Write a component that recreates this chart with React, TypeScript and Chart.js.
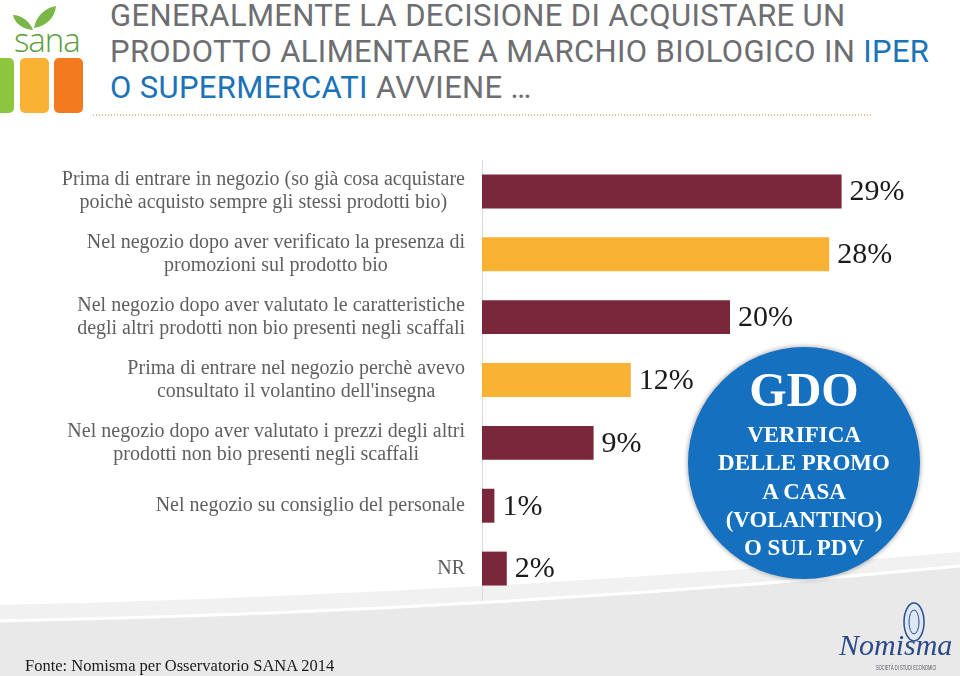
import React, { useEffect, useRef } from "react";
import { Chart, registerables } from "chart.js";

Chart.register(...registerables);

const categories: string[][] = [
  ["Prima di entrare in negozio (so già cosa acquistare", "poichè acquisto sempre gli stessi prodotti bio)"],
  ["Nel negozio dopo aver verificato la presenza di", "promozioni sul prodotto bio"],
  ["Nel negozio dopo aver valutato le caratteristiche", "degli altri prodotti non bio presenti negli scaffali"],
  ["Prima di entrare nel negozio perchè avevo", "consultato il volantino dell'insegna"],
  ["Nel negozio dopo aver valutato i prezzi degli altri", "prodotti non bio presenti negli scaffali"],
  ["Nel negozio su consiglio del personale"],
  ["NR"],
];
const values = [29, 28, 20, 12, 9, 1, 2];
const MAROON = "#7a273b";
const GOLD = "#f9b233";
const barColors = [MAROON, GOLD, MAROON, GOLD, MAROON, MAROON, MAROON];

const titleLines = [
  [{ t: "GENERALMENTE LA DECISIONE DI ACQUISTARE UN", blue: false }],
  [
    { t: "PRODOTTO ALIMENTARE A MARCHIO BIOLOGICO IN ", blue: false },
    { t: "IPER", blue: true },
  ],
  [
    { t: "O SUPERMERCATI", blue: true },
    { t: " AVVIENE …", blue: false },
  ],
];
const badgeTitle = "GDO";
const badgeLines = ["VERIFICA", "DELLE PROMO", "A CASA", "(VOLANTINO)", "O SUL PDV"];
const sourceText = "Fonte: Nomisma per Osservatorio SANA 2014";

const SERIF = '"Liberation Serif", "Times New Roman", serif';

const labelPlugin = {
  id: "customLabels",
  afterDraw(chart: any) {
    const ctx = chart.ctx;
    const yScale = chart.scales.y;
    const area = chart.chartArea;
    ctx.save();
    // category labels
    ctx.font = `20px ${SERIF}`;
    ctx.fillStyle = "#5f5f5f";
    ctx.textBaseline = "middle";
    ctx.textAlign = "center";
    const lh = 23;
    categories.forEach((lines, i) => {
      const y = yScale.getPixelForValue(i);
      const widest = Math.max(...lines.map((l) => ctx.measureText(l).width));
      const cx = area.left - 17 - widest / 2;
      lines.forEach((l, j) => {
        ctx.fillText(l, cx, y - ((lines.length - 1) * lh) / 2 + j * lh);
      });
    });
    // value labels
    const meta = chart.getDatasetMeta(0);
    ctx.font = `30px ${SERIF}`;
    ctx.fillStyle = "#1a1a1a";
    ctx.textAlign = "left";
    meta.data.forEach((el: any, i: number) => {
      ctx.fillText(values[i] + "%", el.x + 8, el.y + 1);
    });
    ctx.restore();
  },
};

function BarChart() {
  const ref = useRef<HTMLCanvasElement | null>(null);
  useEffect(() => {
    if (!ref.current) return;
    const chart = new Chart(ref.current, {
      type: "bar",
      data: {
        labels: categories.map((c) => c.join(" ")),
        datasets: [
          {
            data: values,
            backgroundColor: barColors,
            borderWidth: 0,
            barPercentage: 1,
            categoryPercentage: 34 / 63,
          },
        ],
      },
      options: {
        indexAxis: "y",
        responsive: false,
        animation: false,
        devicePixelRatio: 1,
        layout: { padding: { left: 0, right: 44, top: 160, bottom: 76 } },
        scales: {
          x: { display: false, min: 0, max: 35 },
          y: {
            grid: { display: false, drawTicks: false },
            border: { display: true, color: "#dcdcdc", width: 1 },
            ticks: { display: false },
            afterFit: (s: any) => {
              s.width = 482;
            },
          },
        },
        plugins: { legend: { display: false }, tooltip: { enabled: false } },
      },
      plugins: [labelPlugin],
    } as any);
    return () => chart.destroy();
  }, []);
  return (
    <canvas
      ref={ref}
      width={960}
      height={676}
      style={{ position: "absolute", left: 0, top: 0, width: 960, height: 676, display: "block" }}
    />
  );
}

export default function App() {
  useEffect(() => {
    document.body.style.margin = "0";
  }, []);
  return (
    <div
      style={{
        position: "absolute",
        left: 0,
        top: 0,
        width: 960,
        height: 676,
        overflow: "hidden",
        background: "#ffffff",
      }}
    >
      {/* background swoosh */}
      <svg width={960} height={676} style={{ position: "absolute", left: 0, top: 0 }}>
        <path d="M0,605 Q480,594 960,552 L960,676 L0,676 Z" fill="#f1f1f1" />
        <path d="M0,622 Q480,613 960,567 L960,676 L0,676 Z" fill="#e9e9e9" />
        <path d="M0,621 Q480,612 960,566" stroke="#ffffff" strokeWidth={3} fill="none" />
        {/* dotted line under title */}
        <line x1={93} y1={115} x2={873} y2={115} stroke="#f0a868" strokeWidth={1.4} strokeDasharray="1 2" />
        {/* SANA logo */}
        <path d="M33,30 C30,22 22,15 13,15 C15,24 23,29 33,30 Z" fill="#7ab648" />
        <path d="M34,28 C36,16 45,8 56,6 C55,18 46,26 34,28 Z" fill="#7ab648" />
        <rect x={-12} y={58} width={26} height={55} rx={5} fill="#8cc63f" />
        <rect x={20} y={58} width={29} height={55} rx={5} fill="#f9b233" />
        <rect x={54} y={58} width={29} height={55} rx={5} fill="#f47a20" />
        {/* Nomisma emblem */}
        <ellipse cx={914} cy={622} rx={10} ry={19} fill="#dfe7f3" stroke="#2b4f93" strokeWidth={1.5} />
        <ellipse cx={914} cy={622} rx={5} ry={12} fill="none" stroke="#2b4f93" strokeWidth={1} />
      </svg>
      <div
        style={{
          position: "absolute",
          left: 14,
          top: 23,
          fontFamily: '"Open Sans", sans-serif',
          fontWeight: 300,
          fontSize: 33,
          lineHeight: "34px",
          color: "#5a9e3a",
          letterSpacing: -1,
        }}
      >
        sana
      </div>
      {/* title */}
      {titleLines.map((line, i) => (
        <div
          key={i}
          style={{
            position: "absolute",
            left: 110,
            top: -2 + i * 36,
            fontFamily: "Roboto, sans-serif",
            fontSize: 31,
            lineHeight: "36px",
            letterSpacing: 0.35,
            whiteSpace: "nowrap",
            color: "#6d6e71",
          }}
        >
          {line.map((p, j) => (
            <span key={j} style={{ color: p.blue ? "#1a72b9" : "#6d6e71" }}>
              {p.t}
            </span>
          ))}
        </div>
      ))}
      <BarChart />
      {/* badge */}
      <div
        style={{
          position: "absolute",
          left: 688,
          top: 347,
          width: 232,
          height: 232,
          borderRadius: "50%",
          background: "#1570c0",
          boxShadow: "0 0 4px 1px rgba(0,0,0,0.3)",
          fontFamily: SERIF,
          fontWeight: 700,
          color: "#ffffff",
        }}
      >
        <div
          style={{
            position: "absolute",
            left: 0,
            width: 232,
            top: 43 - 28,
            height: 56,
            lineHeight: "56px",
            fontSize: 48,
            textAlign: "center",
          }}
        >
          {badgeTitle}
        </div>
        {badgeLines.map((l, i) => (
          <div
            key={i}
            style={{
              position: "absolute",
              left: 0,
              width: 232,
              top: 88 + i * 28.25 - 14,
              height: 28,
              lineHeight: "28px",
              fontSize: 23,
              textAlign: "center",
              whiteSpace: "nowrap",
            }}
          >
            {l}
          </div>
        ))}
      </div>
      {/* footer */}
      <div
        style={{
          position: "absolute",
          left: 25,
          top: 656,
          lineHeight: "20px",
          fontFamily: SERIF,
          fontSize: 16.5,
          color: "#1a1a1a",
          whiteSpace: "nowrap",
        }}
      >
        {sourceText}
      </div>
      <div
        style={{
          position: "absolute",
          left: 839,
          top: 630,
          lineHeight: "30px",
          fontFamily: SERIF,
          fontStyle: "italic",
          fontSize: 30,
          color: "#2b4a8b",
          whiteSpace: "nowrap",
        }}
      >
        Nomisma
      </div>
      <div
        style={{
          position: "absolute",
          left: 876,
          top: 664,
          lineHeight: "8px",
          fontFamily: '"Liberation Sans", sans-serif',
          fontSize: 6.5,
          color: "#555a66",
          whiteSpace: "nowrap",
          transform: "scaleX(0.62)",
          transformOrigin: "left center",
        }}
      >
        SOCIETÀ DI STUDI ECONOMICI
      </div>
    </div>
  );
}
